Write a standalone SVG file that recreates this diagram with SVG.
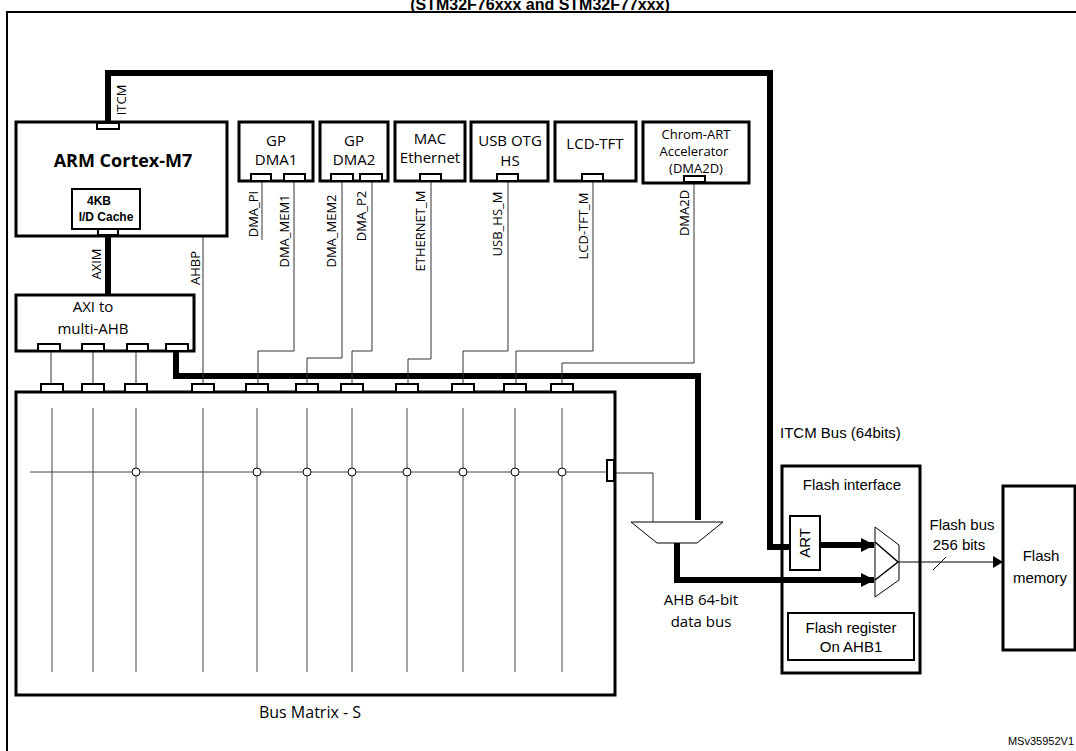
<svg xmlns="http://www.w3.org/2000/svg" width="1076" height="751" viewBox="0 0 1076 751">
<defs>
<style>
.b{fill:#fff;stroke:#000;stroke-width:3}
.p{fill:#fff;stroke:#000;stroke-width:2}
.t{font-family:"Open Sans",sans-serif;font-size:15px;text-anchor:middle}
.s{font-family:"Open Sans",sans-serif;font-size:13px;text-anchor:middle}
.a{font-family:"Liberation Sans",Arial,sans-serif;font-size:15px;text-anchor:middle}
.th{fill:none;stroke:#000;stroke-width:6}
.tn{fill:none;stroke:#333;stroke-width:1}
</style>
<marker id="ah" markerWidth="14" markerHeight="14" refX="13" refY="7" orient="auto" markerUnits="userSpaceOnUse"><path d="M0,0L14,7L0,14z" fill="#000"/></marker>
<marker id="ah2" markerWidth="10" markerHeight="12" refX="9" refY="6" orient="auto" markerUnits="userSpaceOnUse"><path d="M0,0L10,6L0,12z" fill="#000"/></marker>
</defs>
<rect width="1076" height="751" fill="#fff"/>
<text x="540" y="10" font-family="Liberation Sans,Arial,sans-serif" font-size="16" font-weight="bold" text-anchor="middle">(STM32F76xxx and STM32F77xxx)</text>
<path d="M7,751V12H1076" fill="none" stroke="#000" stroke-width="2"/>

<g id="flashif">
<rect x="782" y="466" width="138" height="207" fill="none" stroke="#000" stroke-width="3"/>
<text class="a" x="852" y="490">Flash interface</text>
<polygon points="875,527 899,545 899,580 875,597" fill="#fff" stroke="#000" stroke-width="1"/>
<path d="M875,542L898,562L875,580" fill="none" stroke="#000" stroke-width="1.5"/>
<rect class="p" x="788" y="613" width="126" height="47"/>
<text class="a" font-size="14" x="851" y="633">Flash register</text>
<text class="a" font-size="14" x="851" y="652">On AHB1</text>
</g>

<g id="connectors">
<path class="th" d="M108,126V73H770V547H790"/>
<path class="th" d="M108,236V295"/>
<path class="th" d="M176,351V376H698V520"/>
<path class="th" d="M677,543V580H874" marker-end="url(#ah)"/>
<path class="th" d="M820,545H874" marker-end="url(#ah)"/>
<path class="tn" d="M51,352V383M93,352V383M136,352V383M203,236V383"/>
<path class="tn" d="M262,181V240M294,181V351H258V383M342,181V358H307V383M372,181V351H352V383M431,181V359H408V383M508,181V351H463V383M593,181V351H516V383M694,182V363H562V383"/>
<path class="tn" d="M615,473H653V522"/>
<path d="M899,562H1002" stroke="#000" stroke-width="1" marker-end="url(#ah2)"/>
<path d="M933,570L946,557" stroke="#000" stroke-width="1"/>
</g>

<g id="art">
<rect class="p" x="790" y="516" width="30" height="54"/>
<text class="a" font-size="14" transform="translate(810,543) rotate(-90)">ART</text>
</g>

<g id="cpu">
<rect class="b" x="16" y="122" width="211" height="114"/>
<text x="123" y="167" font-family="Open Sans,sans-serif" font-size="18" font-weight="bold" text-anchor="middle">ARM Cortex-M7</text>
<rect class="p" x="97" y="123" width="22" height="6"/>
<rect class="p" x="72" y="189" width="68" height="40"/>
<text x="99" y="205" font-family="Liberation Sans,Arial,sans-serif" font-size="12" font-weight="bold" text-anchor="middle">4KB</text>
<text x="106" y="221" font-family="Liberation Sans,Arial,sans-serif" font-size="12" font-weight="bold" text-anchor="middle">I/D Cache</text>
<rect class="p" x="98" y="229" width="20" height="6"/>
<text class="s" transform="translate(126,100) rotate(-90)">ITCM</text>
<text class="s" transform="translate(101,264) rotate(-90)">AXIM</text>
<text class="s" transform="translate(200,268) rotate(-90)">AHBP</text>
</g>

<g id="axi">
<rect class="b" x="16" y="295" width="178" height="56"/>
<text class="t" x="93" y="312">AXI to</text>
<text class="t" x="93" y="334">multi-AHB</text>
<rect class="p" x="38" y="344" width="22" height="7"/>
<rect class="p" x="82" y="344" width="22" height="7"/>
<rect class="p" x="127" y="344" width="21" height="7"/>
<rect class="p" x="166" y="344" width="22" height="7"/>
</g>

<g id="dma1">
<rect class="b" x="239" y="122" width="74" height="59"/>
<text class="t" x="276" y="146">GP</text><text class="t" x="276" y="165">DMA1</text>
<rect class="p" x="251" y="174" width="20" height="7"/><rect class="p" x="284" y="174" width="21" height="7"/>
<text class="s" transform="translate(258,214) rotate(-90)">DMA_PI</text>
<text class="s" transform="translate(289,231) rotate(-90)">DMA_MEM1</text>
</g>
<g id="dma2">
<rect class="b" x="320" y="122" width="68" height="59"/>
<text class="t" x="354" y="146">GP</text><text class="t" x="354" y="165">DMA2</text>
<rect class="p" x="331" y="174" width="22" height="7"/><rect class="p" x="360" y="174" width="22" height="7"/>
<text class="s" transform="translate(336,231) rotate(-90)">DMA_MEM2</text>
<text class="s" transform="translate(366,216) rotate(-90)">DMA_P2</text>
</g>
<g id="mac">
<rect class="b" x="395" y="122" width="70" height="59"/>
<text class="t" x="430" y="144">MAC</text><text class="t" x="430" y="163">Ethernet</text>
<rect class="p" x="420" y="174" width="21" height="7"/>
<text class="s" transform="translate(425,231) rotate(-90)">ETHERNET_M</text>
</g>
<g id="usb">
<rect class="b" x="471" y="122" width="77" height="59"/>
<text class="t" x="510" y="146">USB OTG</text><text class="t" x="510" y="166">HS</text>
<rect class="p" x="497" y="174" width="21" height="7"/>
<text class="s" transform="translate(502,224) rotate(-90)">USB_HS_M</text>
</g>
<g id="lcd">
<rect class="b" x="555" y="122" width="81" height="59"/>
<text class="t" x="595" y="149">LCD-TFT</text>
<rect class="p" x="582" y="174" width="21" height="7"/>
<text class="s" transform="translate(588,226) rotate(-90)">LCD-TFT_M</text>
</g>
<g id="dma2d">
<rect class="b" x="643" y="122" width="106" height="61"/>
<text class="s" x="696" y="139" font-size="14">Chrom-ART</text>
<text class="s" x="694" y="156" font-size="14">Accelerator</text>
<text class="s" x="696" y="173" font-size="14">(DMA2D)</text>
<rect class="p" x="684" y="176" width="21" height="6"/>
<text class="s" transform="translate(689,213) rotate(-90)">DMA2D</text>
</g>

<g id="busmatrix">
<rect class="b" x="16" y="392" width="599" height="303"/>
<g fill="#fff" stroke="#000" stroke-width="2">
<rect x="41" y="384" width="22" height="8"/><rect x="82" y="384" width="22" height="8"/><rect x="125" y="384" width="22" height="8"/>
<rect x="192" y="384" width="22" height="8"/><rect x="246" y="384" width="22" height="8"/><rect x="296" y="384" width="22" height="8"/>
<rect x="341" y="384" width="22" height="8"/><rect x="396" y="384" width="22" height="8"/><rect x="452" y="384" width="22" height="8"/>
<rect x="504" y="384" width="22" height="8"/><rect x="551" y="384" width="22" height="8"/>
<rect x="607" y="460" width="7" height="21"/>
</g>
<path stroke="#444" stroke-width="1" d="M52,408V672M93,408V672M136,408V672M203,408V672M257,408V672M307,408V672M352,408V672M407,408V672M463,408V672M515,408V672M562,408V672M30,472H607"/>
<g fill="#fff" stroke="#000" stroke-width="1">
<circle cx="136" cy="472" r="4"/><circle cx="257" cy="472" r="4"/><circle cx="307" cy="472" r="4"/><circle cx="352" cy="472" r="4"/>
<circle cx="407" cy="472" r="4"/><circle cx="463" cy="472" r="4"/><circle cx="515" cy="472" r="4"/><circle cx="562" cy="472" r="4"/>
</g>
<text class="t" x="310" y="718" style="font-size:16px">Bus Matrix - S</text>
</g>

<g id="mux">
<polygon points="631,522 723,522 697,543 657,543" fill="#fff" stroke="#000" stroke-width="1"/>
<text class="t" x="701" y="605">AHB 64-bit</text>
<text class="t" x="701" y="627">data bus</text>
</g>

<text class="a" x="962" y="530">Flash bus</text>
<text class="a" x="959" y="550">256 bits</text>
<text class="a" x="780" y="438" style="text-anchor:start">ITCM Bus (64bits)</text>

<g id="flashmem">
<rect class="b" x="1003" y="486" width="72" height="164"/>
<text class="a" x="1041" y="561">Flash</text>
<text class="a" x="1040" y="583">memory</text>
</g>
<text x="1074" y="745" font-family="Liberation Sans,Arial,sans-serif" font-size="11" text-anchor="end">MSv35952V1</text>
</svg>
